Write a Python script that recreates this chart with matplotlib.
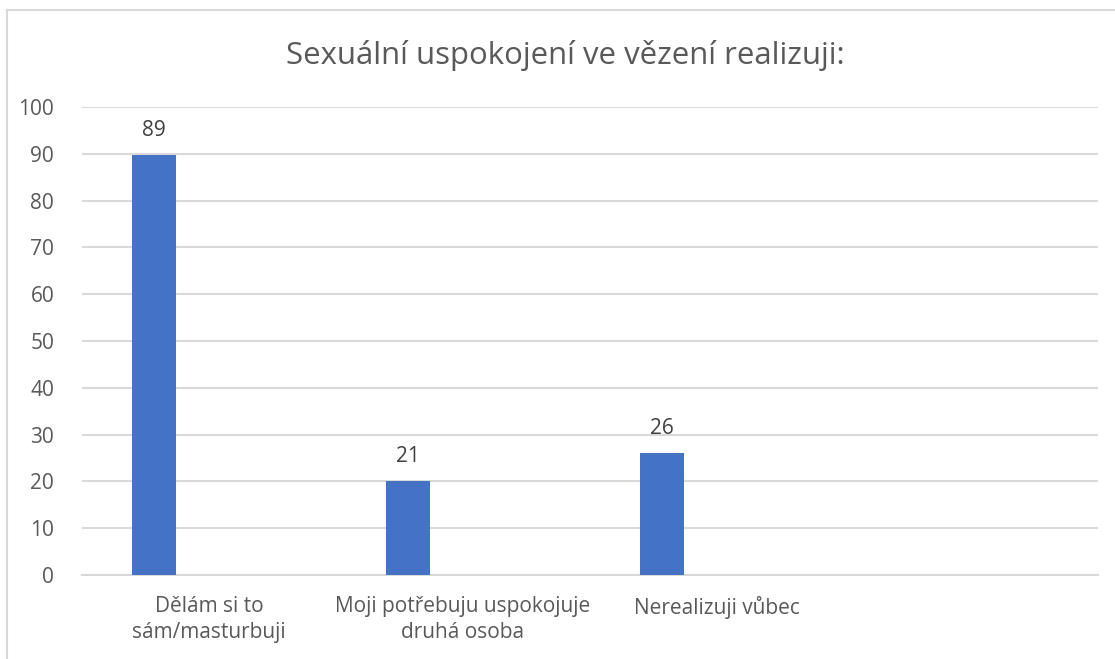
import matplotlib
matplotlib.use("Agg")
import matplotlib.pyplot as plt
from matplotlib.lines import Line2D
import numpy as np

# data
categories = ["Dělám si to\nsám/masturbuji", "Moji potřebuju uspokojuje\ndruhá osoba", "Nerealizuji vůbec", ""]
bar_heights = [89.7, 20.1, 26.1, 0]
bar_labels = ["89", "21", "26", ""]
y_ticks = [0, 10, 20, 30, 40, 50, 60, 70, 80, 90, 100]
title = "Sexuální uspokojení ve vězení realizuji:"

plt.rcParams['font.family'] = ['Open Sans', 'DejaVu Sans']
text_col = "#595959"
grid_col = "#d9d9d9"

fig = plt.figure(figsize=(11.15, 6.59), dpi=100)
ax = fig.add_axes([82/1115, 84/659, 1016/1115, 468/659])

x = np.arange(len(categories))
# bars sit left of the category centre (second, empty series slot on the right)
bx = x - 0.2165
ax.bar(bx[:3], bar_heights[:3], width=0.177, color="#4472C4", zorder=3)
for xi, h, lab in zip(bx, bar_heights, bar_labels):
    if lab:
        ax.annotate(lab, (xi, h), xytext=(0, 10), textcoords="offset points",
                    ha="center", va="bottom", fontsize=15, color="#404040")

ax.set_xlim(-0.5, 3.5)
ax.set_ylim(0, 100)
ax.set_yticks(y_ticks)
ax.set_xticks(x)
ax.set_xticklabels(categories, linespacing=1.35)
ax.tick_params(axis="y", length=0, pad=20, labelsize=15, labelcolor=text_col)
ax.tick_params(axis="x", length=0, pad=15, labelsize=15, labelcolor=text_col)
ax.yaxis.grid(True, color=grid_col, linewidth=1.5, zorder=0)
for s in ["top", "right", "left"]:
    ax.spines[s].set_visible(False)
ax.spines["bottom"].set_color(grid_col)
ax.spines["bottom"].set_linewidth(1.5)

fig.text(0.507, 0.916, title, ha="center", va="center", fontsize=22.4, color=text_col)

# outer chart border (partly cut off in the screenshot)
fig.add_artist(Line2D([7/1115, 1], [1 - 10/659, 1 - 10/659], color=grid_col, linewidth=1.5))
fig.add_artist(Line2D([7/1115, 7/1115], [0, 1 - 10/659], color=grid_col, linewidth=1.5))

fig.savefig("out.png", dpi=100)
